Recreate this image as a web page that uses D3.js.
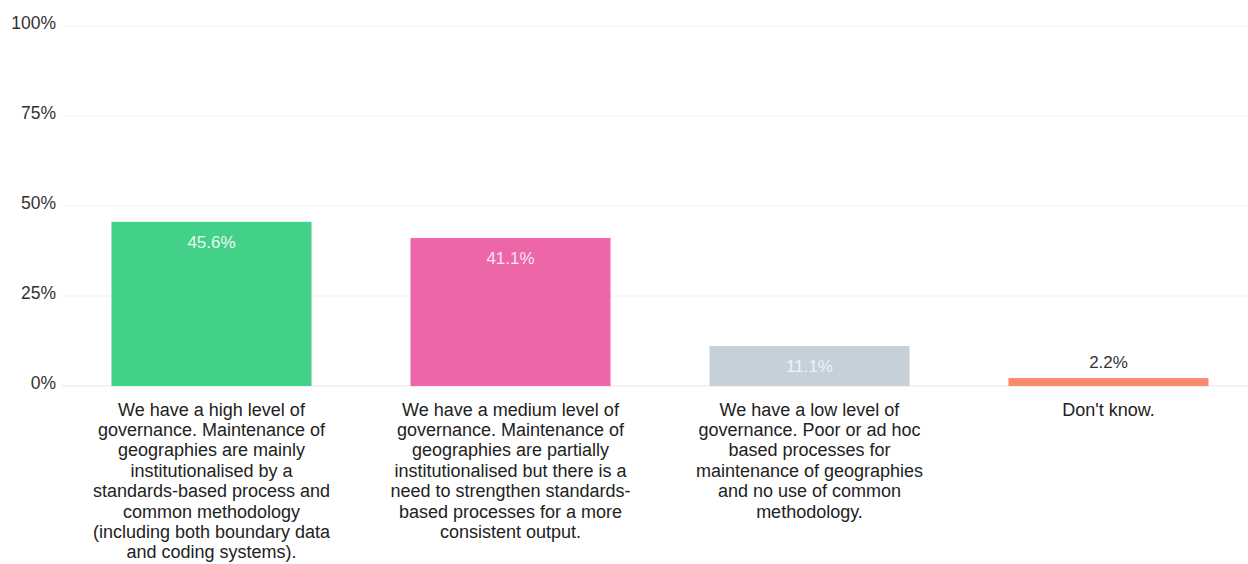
<!DOCTYPE html>
<html>
<head>
<meta charset="utf-8">
<script src="https://cdn.jsdelivr.net/npm/d3@7"></script>
<style>
  html, body { margin: 0; padding: 0; background: #ffffff; }
  svg { display: block; font-family: "Liberation Sans", Arial, Helvetica, sans-serif; }
</style>
</head>
<body>
<svg id="chart" width="1248" height="564"></svg>
<script>
// Survey responses: level of governance for maintaining geographies
const categories = [
  "We have a high level of governance. Maintenance of geographies are mainly institutionalised by a standards-based process and common methodology (including both boundary data and coding systems).",
  "We have a medium level of governance. Maintenance of geographies are partially institutionalised but there is a need to strengthen standards-based processes for a more consistent output.",
  "We have a low level of governance. Poor or ad hoc based processes for maintenance of geographies and no use of common methodology.",
  "Don't know."
];
const values = [45.6, 41.1, 11.1, 2.2];
const barColors = ["#43d088", "#ec66a8", "#c6d0d9", "#fd896c"];
const valueLabelColors = ["#eafaf1", "#fbe4ef", "#eef2f5", "#333333"];
const yTicks = [0, 25, 50, 75, 100];
const yTickLabels = ["0%", "25%", "50%", "75%", "100%"];

const svg = d3.select("#chart");
const W = 1248;
const plot = { left: 62, right: 1258, top: 26, bottom: 386 };

const x = d3.scaleBand()
  .domain(d3.range(categories.length))
  .range([plot.left, plot.right])
  .paddingInner(0.331)
  .paddingOuter(0.1655);

const y = d3.scaleLinear()
  .domain([0, 100])
  .range([plot.bottom, plot.top]);

// horizontal gridlines
svg.append("g")
  .selectAll("line")
  .data(yTicks)
  .join("line")
  .attr("x1", plot.left)
  .attr("x2", W)
  .attr("y1", d => y(d))
  .attr("y2", d => y(d))
  .attr("stroke", d => d === 0 ? "#e6e6e6" : "#f0f0f0")
  .attr("stroke-width", 1);

// y-axis labels
const yAxis = d3.axisLeft(y)
  .tickValues(yTicks)
  .tickFormat((d, i) => yTickLabels[i])
  .tickSize(0)
  .tickPadding(6);

const yg = svg.append("g")
  .attr("transform", `translate(${plot.left},0)`)
  .call(yAxis);
yg.select(".domain").remove();
yg.selectAll("text")
  .attr("font-size", 17.5)
  .attr("fill", "#333333")
  .attr("font-family", "'Liberation Sans', Arial, sans-serif")
  .attr("dy", "0.12em")
  .attr("y", 0);

// bars
svg.append("g")
  .selectAll("rect")
  .data(values)
  .join("rect")
  .attr("x", (d, i) => x(i))
  .attr("width", x.bandwidth())
  .attr("y", d => y(d))
  .attr("height", d => y(0) - y(d))
  .attr("fill", (d, i) => barColors[i]);

// value labels: inside tall bars, above short ones
svg.append("g")
  .selectAll("text")
  .data(values)
  .join("text")
  .attr("x", (d, i) => x(i) + x.bandwidth() / 2)
  .attr("y", d => (y(0) - y(d) > 30) ? y(d) + 26 : y(d) - 10)
  .attr("text-anchor", "middle")
  .attr("font-size", 17)
  .attr("fill", (d, i) => valueLabelColors[i])
  .text(d => d.toFixed(1) + "%");

// category labels, wrapped under each bar
const labelFont = 18;
const lineHeight = 20.4;
const firstBaseline = 415.5;
const wrapWidth = 250;
const measure = document.createElement("canvas").getContext("2d");
measure.font = `${labelFont}px "Liberation Sans", Arial, sans-serif`;

function wrap(text) {
  // break after spaces and hyphens
  const tokens = text.match(/[^\s-]+-?|\s+/g) || [];
  const lines = [];
  let cur = "";
  tokens.forEach(t => {
    const trial = cur + t;
    if (cur.trim() !== "" && measure.measureText(trial.trimEnd()).width > wrapWidth) {
      lines.push(cur.trimEnd());
      cur = t.trim() === "" ? "" : t;
    } else {
      cur = trial;
    }
  });
  if (cur.trim() !== "") lines.push(cur.trimEnd());
  return lines;
}

const catG = svg.append("g");
categories.forEach((c, i) => {
  const cx = x(i) + x.bandwidth() / 2;
  const t = catG.append("text")
    .attr("x", cx)
    .attr("y", firstBaseline)
    .attr("text-anchor", "middle")
    .attr("font-size", labelFont)
    .attr("fill", "#222222");
  wrap(c).forEach((ln, k) => {
    t.append("tspan")
      .attr("x", cx)
      .attr("y", firstBaseline + k * lineHeight)
      .text(ln);
  });
});
</script>
</body>
</html>
